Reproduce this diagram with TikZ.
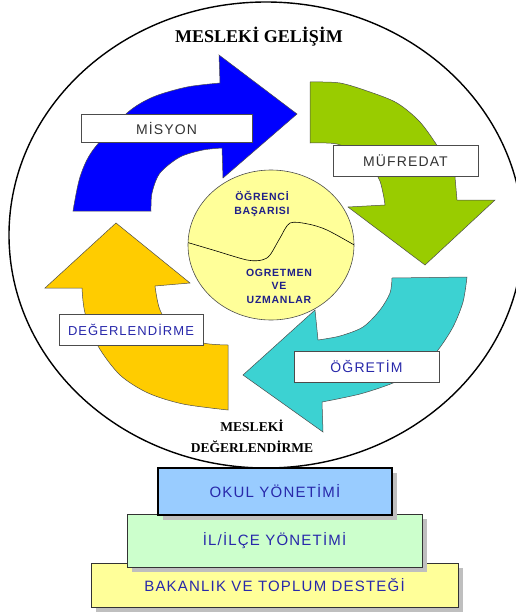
\documentclass[tikz,border=0pt]{standalone}
\usepackage{fontspec}
\setmainfont{Liberation Serif}
\newfontfamily\lblfont[LetterSpace=8]{Liberation Sans}
\newfontfamily\corefont[LetterSpace=7]{Liberation Sans}
\usetikzlibrary{shadows}
\definecolor{misblue}{RGB}{0,0,255}
\definecolor{mufgreen}{RGB}{153,204,0}
\definecolor{ogrteal}{RGB}{60,210,210}
\definecolor{degyellow}{RGB}{255,204,0}
\definecolor{coreyellow}{RGB}{255,255,153}
\definecolor{txtblue}{RGB}{40,40,170}
\definecolor{okulblue}{RGB}{153,204,255}
\definecolor{ilcegreen}{RGB}{204,255,204}
\definecolor{bakyellow}{RGB}{255,255,153}

\begin{document}
\begin{tikzpicture}[x=1pt, y=-1pt,
    swirl/.style={draw=black!70, line width=0.5pt},
    tag/.style={draw=black!70, line width=0.8pt, fill=white, inner sep=0pt,
      font=\lblfont\fontsize{14}{16}\selectfont},
    base/.style={draw=black!80, line width=0.8pt, inner sep=0pt, text=txtblue,
      font=\lblfont\fontsize{15}{17}\selectfont,
      drop shadow={shadow xshift=5pt, shadow yshift=-5pt, fill=gray!50, opacity=1}},
    core/.style={align=center, text=txtblue!80!black,
      font=\corefont\bfseries\fontsize{10.5}{13.5}\selectfont}]

      \useasboundingbox (0,0) rectangle (515,616);
      \draw[line width=1.4pt] (266,235) ellipse [x radius=257pt, y radius=233pt];

      \filldraw[swirl, fill=misblue] plot [smooth] coordinates {
        (73,211) (80,177) (93,150) (127,113) (153,97) (187,87) (220,83)
      } -- (219,55) -- (297,114) -- (223,178) -- (222,148) -- plot [smooth] coordinates {
        (222,148) (203,150) (180,157) (160,173) (152,193) (151,211)
      } -- cycle;
      \filldraw[swirl, fill=mufgreen] plot [smooth] coordinates {
        (310,82) (340,83) (370,92) (397,103) (420,122) (440,150) (455,177)
      } -- (457,200) -- (495,200) -- (425,265) -- (348,207) -- (385,205) -- plot [smooth] coordinates {
        (385,205) (383,193) (378,177) (360,155) (337,144) (310,143)
      } -- cycle;
      \filldraw[swirl, fill=ogrteal] (392,278) -- plot [smooth] coordinates {
        (467,277) (463,302) (453,327) (438,350) (420,369) (393,383) (360,394) (322,402)
      } -- (323,432) -- (243,375) -- (315,310) -- (318,340) -- plot [smooth] coordinates {
        (318,340) (340,336) (363,327) (380,310) (390,293) (392,278)
      } -- cycle;
      \filldraw[swirl, fill=degyellow] (116,223) -- (190,283) -- (155,286) -- plot [smooth] coordinates {
        (155,286) (160,310) (175,332) (203,343) (228,345)
      } -- (228,410) -- plot [smooth] coordinates {
        (228,410) (183,404) (148,393) (120,375) (98,346) (85,313) (82,288)
      } -- (45,288) -- cycle;

      \filldraw[draw=black!70, line width=0.6pt, fill=coreyellow] (271,245) ellipse [x radius=83pt, y radius=75pt];
      \begin{scope}
        \clip (271,245) ellipse [x radius=83pt, y radius=75pt];
        \draw[line width=0.6pt] plot [smooth] coordinates {
          (186,242) (213,250) (247,260) (262,260) (270,255) (280,238) (290,223) (308,224) (327,230) (356,246)
        };
      \end{scope}
      \node[core] (ogrenci) at (262,204) {ÖĞRENCİ\\BAŞARISI};
      \node[core] (ogretmen) at (279,286) {OGRETMEN\\VE\\UZMANLAR};

      \node[tag, minimum width=171pt, minimum height=28pt, text=black!80] (misyon) at (166.5,128.5) {MİSYON};
      \node[tag, minimum width=145pt, minimum height=31pt, text=black!80] (mufredat) at (405.5,160.5) {MÜFREDAT};
      \node[tag, minimum width=144pt, minimum height=31pt, text=txtblue,
        font=\lblfont\fontsize{13}{15}\selectfont] (degerlendirme) at (131,329.5) {DEĞERLENDİRME};
      \node[tag, minimum width=145pt, minimum height=31pt, text=txtblue] (ogretim) at (366.5,366.5) {ÖĞRETİM};

      \node[font=\bfseries\fontsize{18}{20}\selectfont] (gelisim) at (259,37) {MESLEKİ GELİŞİM};
      \node[align=center, font=\bfseries\fontsize{13.5}{21}\selectfont] (mdeg) at (252,436) {MESLEKİ\\DEĞERLENDİRME};

      \node[base, fill=bakyellow, minimum width=367pt, minimum height=44pt] (bakanlik) at (274.5,585) {BAKANLIK VE TOPLUM DESTEĞİ};
      \node[base, fill=ilcegreen, minimum width=295pt, minimum height=53pt] (ilce) at (274.5,540.5) {İL/İLÇE YÖNETİMİ};
      \node[base, fill=okulblue, minimum width=234pt, minimum height=47pt, draw=black, line width=1.6pt] (okul) at (275,491.5) {OKUL YÖNETİMİ};

    \end{tikzpicture}
\end{document}
